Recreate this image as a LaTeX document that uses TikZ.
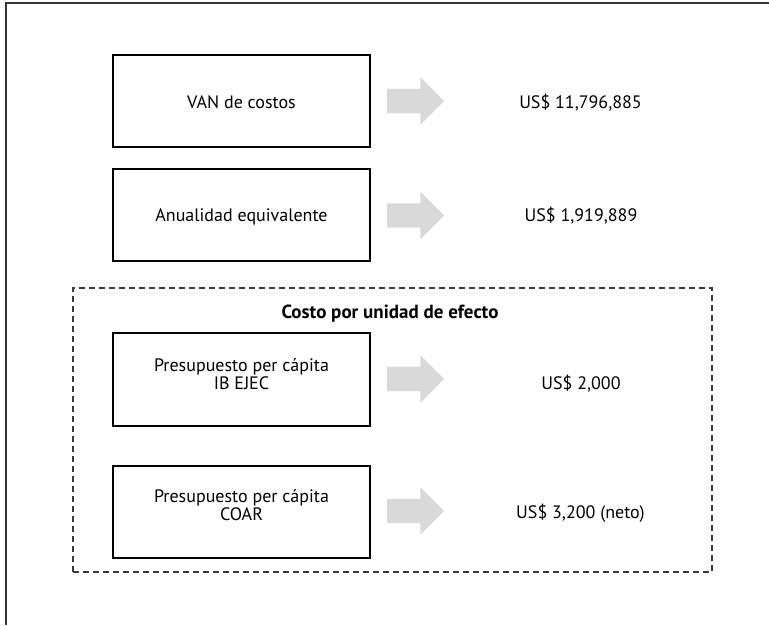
\documentclass[tikz,border=0pt]{standalone}
\usepackage{fontspec}
\setmainfont{PT Sans}
\usetikzlibrary{shapes.arrows}
\definecolor{arrowgray}{HTML}{D9D9D9}
\definecolor{framegray}{HTML}{333333}
\definecolor{dashgray}{HTML}{3A3A3A}
\begin{document}
\begin{tikzpicture}[x=1pt,y=-1pt,
  box/.style={draw=black, line width=1.3pt, minimum width=257pt, minimum height=92pt, inner sep=0pt},
  lbl/.style={font=\fontsize{18}{13.5}\selectfont, align=center, inner sep=0pt, anchor=base},
  val/.style={font=\fontsize{18}{13.5}\selectfont, inner sep=0pt, anchor=base},
  ttl/.style={font=\fontsize{19}{19}\selectfont\bfseries, inner sep=0pt, anchor=base},
  blockarrow/.style={single arrow, fill=arrowgray, draw=none, minimum height=57pt,
    single arrow head extend=11.5pt, inner sep=12pt, anchor=center},
  framebox/.style={draw=framegray, line width=2pt},
  dashbox/.style={draw=dashgray, line width=1.3pt, dash pattern=on 6pt off 4pt}
]
\useasboundingbox (0,0) rectangle (769,625);
% outer frame (top and left edges visible)
\coordinate (fTR) at (769,3);
\coordinate (fTL) at (6,3);
\coordinate (fBL) at (6,625);
\draw[framebox] (fTR) -- (fTL) -- (fBL);
% dashed group
\node[dashbox, minimum width=639pt, minimum height=284pt, inner sep=0pt] (grp) at (392.5,430) {};
\node[ttl] (title) at (390,318) {Costo por unidad de efecto};
% boxes
\node[box] (b1) at (241.5,101) {};
\node[box] (b2) at (241.5,215) {};
\node[box, minimum height=93pt] (b3) at (241.5,379.5) {};
\node[box] (b4) at (241.5,512) {};
% box labels
\node[lbl] (t1) at (241.5,108) {VAN de costos};
\node[lbl] (t2) at (241.5,221) {Anualidad equivalente};
\node[lbl] (t3) at (241.5,389) {Presupuesto per cápita\\IB EJEC};
\node[lbl] (t4) at (241.5,520) {Presupuesto per cápita\\COAR};
% arrows
\node[blockarrow] (a1) at (409.5,101) {};
\node[blockarrow] (a2) at (409.5,215.5) {};
\node[blockarrow] (a3) at (409.5,379) {};
\node[blockarrow] (a4) at (409.5,511) {};
% values
\node[val] (v1) at (580.5,108) {US\$ 11,796,885};
\node[val] (v2) at (581,221) {US\$ 1,919,889};
\node[val] (v3) at (581,389) {US\$ 2,000};
\node[val] (v4) at (580.5,518) {US\$ 3,200 (neto)};
\end{tikzpicture}
\end{document}
